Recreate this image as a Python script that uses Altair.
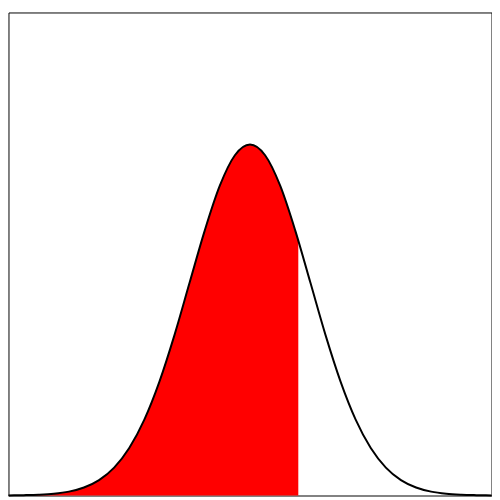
import altair as alt
import pandas as pd

# density values (x in standard units)
xs = [-4, -3.75, -3.5, -3.25, -3, -2.75, -2.5, -2.25, -2, -1.75, -1.5, -1.25, -1,
      -0.75, -0.5, -0.25, 0, 0.25, 0.5, 0.75, 1, 1.25, 1.5, 1.75, 2, 2.25, 2.5,
      2.75, 3, 3.25, 3.5, 3.75, 4]
ys = [0.0001, 0.0004, 0.0009, 0.0020, 0.0044, 0.0091, 0.0175, 0.0317, 0.0540,
      0.0863, 0.1295, 0.1826, 0.2420, 0.3011, 0.3521, 0.3867, 0.3989, 0.3867,
      0.3521, 0.3011, 0.2420, 0.1826, 0.1295, 0.0863, 0.0540, 0.0317, 0.0175,
      0.0091, 0.0044, 0.0020, 0.0009, 0.0004, 0.0001]
cut_x = 0.8
cut_y = 0.2897

curve = pd.DataFrame({"x": xs, "y": ys})
shade = pd.DataFrame({"x": [x for x in xs if x <= cut_x] + [cut_x],
                      "y": [y for x, y in zip(xs, ys) if x <= cut_x] + [cut_y]})

xsc = alt.Scale(domain=[-4, 4], nice=False, zero=False)
ysc = alt.Scale(domain=[0, 0.549], nice=False)

area = alt.Chart(shade).mark_area(color="red", interpolate="monotone").encode(
    x=alt.X("x:Q", scale=xsc, axis=None),
    y=alt.Y("y:Q", scale=ysc, axis=None),
)
line = alt.Chart(curve).mark_line(color="black", strokeWidth=2, interpolate="monotone").encode(
    x=alt.X("x:Q", scale=xsc, axis=None),
    y=alt.Y("y:Q", scale=ysc, axis=None),
)

chart = (area + line).properties(
    width=491, height=491, padding=0.5, autosize="none",
).configure_view(stroke="black", strokeWidth=1)

chart.save("out.html", embed_options={"renderer": "svg", "actions": False})
